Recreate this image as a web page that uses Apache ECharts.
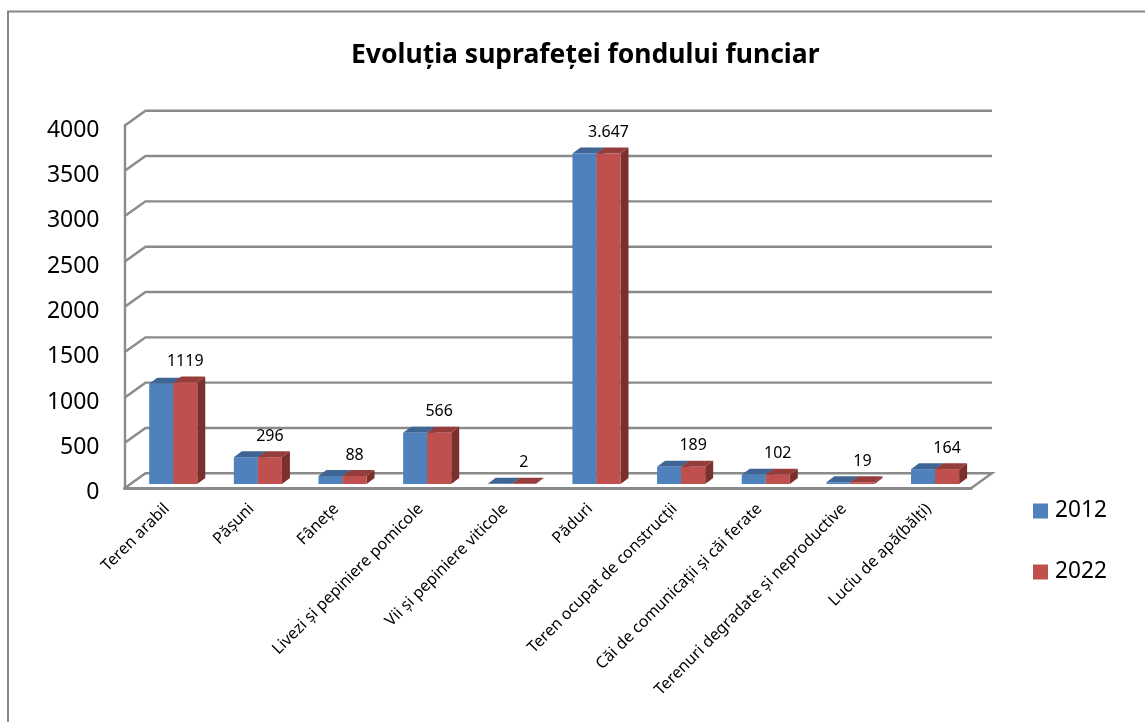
<!DOCTYPE html>
<html>
<head>
<meta charset="utf-8">
<title>Evoluția suprafeței fondului funciar</title>
<script src="https://cdn.jsdelivr.net/npm/echarts@6/dist/echarts.min.js"></script>
<style>
  html, body { margin: 0; padding: 0; background: #fff; }
  #chart { width: 1145px; height: 722px; }
</style>
</head>
<body>
<div id="chart"></div>
<script>
var categories = [
  'Teren arabil', 'Pășuni', 'Fânețe', 'Livezi și pepiniere pomicole',
  'Vii și pepiniere viticole', 'Păduri', 'Teren ocupat de construcții',
  'Căi de comunicații și căi ferate', 'Terenuri degradate și neproductive',
  'Luciu de apă(bălți)'
]
var years = ['2012', '2022']
var values2012 = [1105, 296, 88, 566, 2, 3647, 189, 102, 19, 164]
var values2022 = [1119, 296, 88, 566, 2, 3647, 189, 102, 19, 164]
var labels2022 = ['1119', '296', '88', '566', '2', '3.647', '189', '102', '19', '164']
var yTicks = [0, 500, 1000, 1500, 2000, 2500, 3000, 3500, 4000]

var FONT = '"Noto Sans", sans-serif'
var GRID_COLOR = '#8a8a8a'
//底面进深：墙相对前平面的偏移
var WALL_DX = 21, WALL_DY = -15
//柱子站在底面中间
var BAR_DX = 6.4, BAR_DY = -4.3
//柱子自身的进深
var DEPTH_DX = 8, DEPTH_DY = -6

//后墙网格线（左侧斜线 + 后墙横线）
function renderWall(params, api) {
  var cs = params.coordSys
  var p = api.coord([0, api.value(0)])
  var y = p[1]
  var left = cs.x, right = cs.x + cs.width
  var pts = [[left, y], [left + WALL_DX, y + WALL_DY], [right + WALL_DX, y + WALL_DY]]
  //最底一条要把底面右边也封上
  if (api.value(0) === 0) pts.push([right, y])
  return {
    type: 'polyline',
    shape: { points: pts },
    style: { fill: null, stroke: GRID_COLOR, lineWidth: 2.4 }
  }
}

function quad(points, color) {
  return { type: 'polygon', shape: { points: points }, style: { fill: color, stroke: null } }
}

function makeBarRender(idx, front, top, side) {
  return function (params, api) {
    var band = api.size([1, 0])[0]
    var w = band * 0.284
    var base = api.coord([api.value(0), 0])
    var peak = api.coord([api.value(0), api.value(1)])
    var x0 = base[0] + BAR_DX - w + idx * w
    var x1 = x0 + w
    var yb = base[1] + BAR_DY
    var yt = peak[1] + BAR_DY
    var children = [
      quad([[x1, yb], [x1 + DEPTH_DX, yb + DEPTH_DY], [x1 + DEPTH_DX, yt + DEPTH_DY], [x1, yt]], side),
      quad([[x0, yt], [x1, yt], [x1 + DEPTH_DX, yt + DEPTH_DY], [x0 + DEPTH_DX, yt + DEPTH_DY]], top),
      { type: 'rect', shape: { x: x0, y: yt, width: w, height: yb - yt }, style: { fill: front } }
    ]
    //数据标签只在2022系列上
    if (idx === 1) {
      children.push({
        type: 'text',
        style: {
          x: x0 + w / 2, y: yt - 21,
          text: labels2022[params.dataIndex],
          fill: '#000', font: '16px ' + FONT,
          align: 'center', verticalAlign: 'middle'
        }
      })
    }
    return { type: 'group', children: children }
  }
}

function toItems(values) {
  var out = []
  for (var i = 0; i < values.length; i++) out.push([i, values[i]])
  return out
}

var wallData = []
for (var i = 0; i < yTicks.length; i++) wallData.push([yTicks[i]])

var chart = echarts.init(document.getElementById('chart'))
chart.setOption({
  animation: false,
  backgroundColor: '#fff',
  title: {
    text: 'Evoluția suprafeței fondului funciar',
    left: 346, top: 37,
    textStyle: { fontFamily: FONT, fontSize: 26.5, fontWeight: 'bold', color: '#000' }
  },
  legend: {
    orient: 'vertical',
    left: 1028, top: 494.5,
    itemWidth: 15, itemHeight: 15, itemGap: 38,
    icon: 'rect',
    data: years,
    textStyle: { fontFamily: FONT, fontSize: 22.7, color: '#000', padding: [0, 0, 0, 2] }
  },
  grid: { left: 124.5, right: 174, top: 125.7, bottom: 233.7, containLabel: false },
  xAxis: {
    type: 'category',
    data: categories,
    axisTick: { show: false },
    axisLine: { show: true, lineStyle: { color: GRID_COLOR, width: 3 } },
    axisLabel: {
      interval: 0, rotate: 45, margin: 18,
      fontFamily: FONT, fontSize: 16, color: '#000'
    }
  },
  yAxis: {
    type: 'value',
    min: 0, max: 4000, interval: 500,
    splitLine: { show: false },
    axisTick: { show: false },
    axisLine: { show: true, lineStyle: { color: GRID_COLOR, width: 2.4 } },
    axisLabel: {
      margin: 25, verticalAlign: 'top', lineHeight: 9,
      fontFamily: FONT, fontSize: 23, color: '#000',
      formatter: function (v) { return '' + v }
    }
  },
  graphic: [{
    //外框：只有左边和上边
    type: 'polyline',
    shape: { points: [[8, 722], [8, 11.5], [1145, 11.5]] },
    style: { fill: null, stroke: '#868686', lineWidth: 2 },
    silent: true
  }],
  series: [
    {
      name: 'wall', type: 'custom', silent: true, z: 1,
      renderItem: renderWall,
      encode: { y: 0 },
      data: wallData
    },
    {
      name: years[0], type: 'custom', silent: true, z: 2,
      itemStyle: { color: '#4F81BD' },
      renderItem: makeBarRender(0, '#4F81BD', '#3E6593', '#3A5F8C'),
      encode: { x: 0, y: 1 },
      data: toItems(values2012)
    },
    {
      name: years[1], type: 'custom', silent: true, z: 3,
      itemStyle: { color: '#C0504D' },
      renderItem: makeBarRender(1, '#C0504D', '#943D3B', '#7C302E'),
      encode: { x: 0, y: 1 },
      data: toItems(values2022)
    }
  ]
})
</script>
</body>
</html>
